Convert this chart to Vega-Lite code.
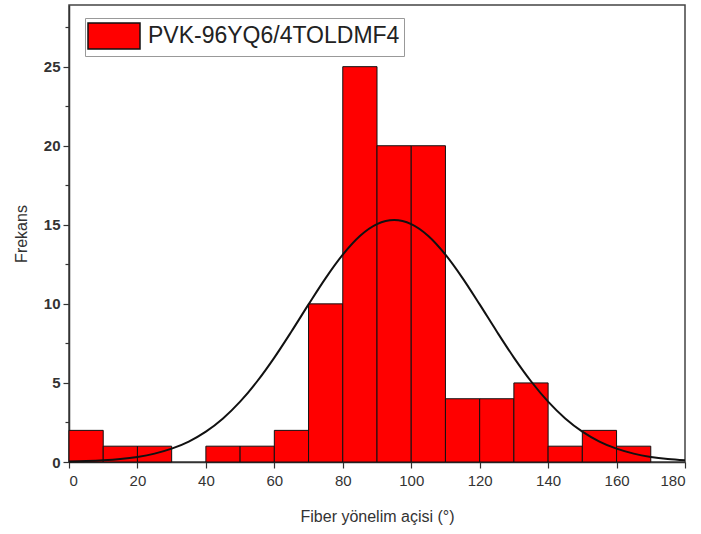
{
  "$schema": "https://vega.github.io/schema/vega-lite/v6.json",
  "width": 616,
  "height": 457,
  "autosize": {"type": "none"},
  "padding": {"left": 69, "top": 5, "right": 16, "bottom": 72},
  "background": "white",
  "config": {
    "font": "Liberation Sans",
    "view": {"stroke": "#444", "strokeWidth": 1.5},
    "axis": {"domainColor": "#333", "domainWidth": 1.5, "tickColor": "#333", "tickWidth": 1.2, "grid": false, "labelColor": "#333", "titleColor": "#333", "labelFontSize": 15, "titleFontSize": 16, "titleFontWeight": "normal"}
  },
  "datasets": {
    "bins": [
      {"start": 0, "end": 10, "count": 2, "series": "PVK-96YQ6/4TOLDMF4"},
      {"start": 10, "end": 20, "count": 1, "series": "PVK-96YQ6/4TOLDMF4"},
      {"start": 20, "end": 30, "count": 1, "series": "PVK-96YQ6/4TOLDMF4"},
      {"start": 40, "end": 50, "count": 1, "series": "PVK-96YQ6/4TOLDMF4"},
      {"start": 50, "end": 60, "count": 1, "series": "PVK-96YQ6/4TOLDMF4"},
      {"start": 60, "end": 70, "count": 2, "series": "PVK-96YQ6/4TOLDMF4"},
      {"start": 70, "end": 80, "count": 10, "series": "PVK-96YQ6/4TOLDMF4"},
      {"start": 80, "end": 90, "count": 25, "series": "PVK-96YQ6/4TOLDMF4"},
      {"start": 90, "end": 100, "count": 20, "series": "PVK-96YQ6/4TOLDMF4"},
      {"start": 100, "end": 110, "count": 20, "series": "PVK-96YQ6/4TOLDMF4"},
      {"start": 110, "end": 120, "count": 4, "series": "PVK-96YQ6/4TOLDMF4"},
      {"start": 120, "end": 130, "count": 4, "series": "PVK-96YQ6/4TOLDMF4"},
      {"start": 130, "end": 140, "count": 5, "series": "PVK-96YQ6/4TOLDMF4"},
      {"start": 140, "end": 150, "count": 1, "series": "PVK-96YQ6/4TOLDMF4"},
      {"start": 150, "end": 160, "count": 2, "series": "PVK-96YQ6/4TOLDMF4"},
      {"start": 160, "end": 170, "count": 1, "series": "PVK-96YQ6/4TOLDMF4"}
    ],
    "curve": [
      {"x": 0, "y": 0.031}, {"x": 5, "y": 0.059}, {"x": 10, "y": 0.108}, {"x": 15, "y": 0.19},
      {"x": 20, "y": 0.323}, {"x": 25, "y": 0.531}, {"x": 30, "y": 0.844}, {"x": 35, "y": 1.295},
      {"x": 40, "y": 1.921}, {"x": 45, "y": 2.754}, {"x": 50, "y": 3.816}, {"x": 55, "y": 5.107},
      {"x": 60, "y": 6.604}, {"x": 65, "y": 8.253}, {"x": 70, "y": 9.966}, {"x": 75, "y": 11.63},
      {"x": 80, "y": 13.11}, {"x": 85, "y": 14.29}, {"x": 90, "y": 15.04}, {"x": 95, "y": 15.3},
      {"x": 100, "y": 15.04}, {"x": 105, "y": 14.29}, {"x": 110, "y": 13.11}, {"x": 115, "y": 11.63},
      {"x": 120, "y": 9.966}, {"x": 125, "y": 8.253}, {"x": 130, "y": 6.604}, {"x": 135, "y": 5.107},
      {"x": 140, "y": 3.816}, {"x": 145, "y": 2.754}, {"x": 150, "y": 1.921}, {"x": 155, "y": 1.295},
      {"x": 160, "y": 0.844}, {"x": 165, "y": 0.531}, {"x": 170, "y": 0.323}, {"x": 175, "y": 0.19},
      {"x": 180, "y": 0.108}
    ]
  },
  "layer": [
    {
      "data": {"name": "bins"},
      "mark": {"type": "bar", "stroke": "#111", "strokeWidth": 1},
      "encoding": {
        "x": {
          "field": "start", "type": "quantitative",
          "scale": {"domain": [0, 180], "nice": false, "zero": false},
          "axis": {
            "title": "Fiber yönelim açisi (°)",
            "values": [0, 10, 20, 30, 40, 50, 60, 70, 80, 90, 100, 110, 120, 130, 140, 150, 160, 170, 180],
            "labelExpr": "datum.value % 20 === 0 ? datum.label : ''",
            "tickSize": {"condition": {"test": "datum.value % 20 === 0", "value": 6}, "value": 4},
            "labelPadding": 5,
            "titlePadding": 20
          }
        },
        "x2": {"field": "end"},
        "y": {
          "field": "count", "type": "quantitative",
          "scale": {"domain": [0, 28.9], "nice": false},
          "axis": {
            "title": "Frekans",
            "values": [0, 2.5, 5, 7.5, 10, 12.5, 15, 17.5, 20, 22.5, 25, 27.5],
            "labelExpr": "datum.value % 5 === 0 ? datum.label : ''",
            "labelFontWeight": "bold",
            "tickSize": {"condition": {"test": "datum.value % 5 === 0", "value": 6}, "value": 4},
            "labelPadding": 3,
            "titlePadding": 14
          }
        },
        "y2": {"datum": 0},
        "color": {
          "field": "series", "type": "nominal",
          "scale": {"range": ["#ff0000"]},
          "legend": {
            "title": null,
            "orient": "none",
            "legendX": 16,
            "legendY": 13,
            "symbolType": "M-2,-1H2V1H-2Z",
            "symbolSize": 676,
            "symbolOffset": 11,
            "symbolStrokeColor": "#111",
            "symbolStrokeWidth": 1.5,
            "labelFontSize": 23,
            "labelColor": "#222",
            "labelLimit": 400,
            "strokeColor": "#999",
            "padding": 4,
            "labelOffset": 20
          }
        }
      }
    },
    {
      "data": {"name": "curve"},
      "mark": {"type": "line", "color": "#111", "strokeWidth": 2, "interpolate": "monotone"},
      "encoding": {
        "x": {"field": "x", "type": "quantitative"},
        "y": {"field": "y", "type": "quantitative"}
      }
    }
  ]
}
